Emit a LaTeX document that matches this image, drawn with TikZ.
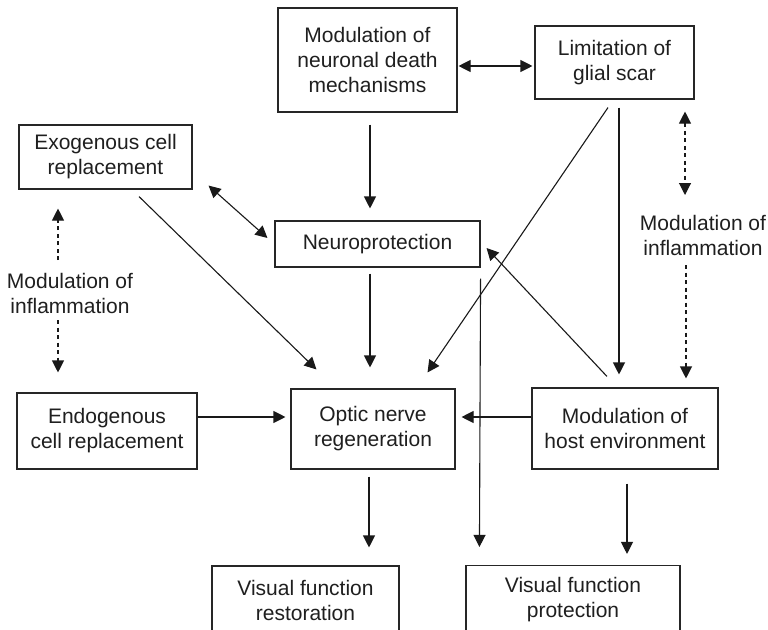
\documentclass[tikz,border=0pt]{standalone}
\usepackage{fontspec}
\setmainfont{Liberation Sans}
\usetikzlibrary{arrows.meta,calc}
\begin{document}
\begin{tikzpicture}[x=1pt,y=-1pt,
  box/.style={draw=black!85, line width=1.1pt, align=center, inner sep=0pt, text=black!88, font=\fontsize{21}{25}\selectfont},
  lbl/.style={align=center, inner sep=0pt, text=black!88, font=\fontsize{21}{25}\selectfont},
  arr/.style={draw=black!90, line width=1.1pt, -{Triangle[length=12pt,width=12pt]}},
  darr/.style={draw=black!90, line width=1.1pt, {Triangle[length=12pt,width=12pt]}-{Triangle[length=12pt,width=12pt]}},
  dsh/.style={dash pattern=on 4pt off 3.5pt}]
\clip (0,0) rectangle (768,629);
\fill[white] (0,0) rectangle (768,629);

\node[box, minimum width=179, minimum height=104] (M) at (367.5,60) {Modulation of\\neuronal death\\mechanisms};
\node[box, minimum width=159, minimum height=73] (L) at (614.5,62.5) {Limitation of\\glial scar};
\node[box, minimum width=173, minimum height=64] (Exo) at (105.5,157) {Exogenous cell\\replacement};
\node[box, minimum width=205, minimum height=46] (NP) at (377.5,244) {Neuroprotection};
\node[box, minimum width=180, minimum height=76] (Endo) at (107,431) {Endogenous\\cell replacement};
\node[box, minimum width=164, minimum height=80] (ONR) at (373,429) {Optic nerve\\regeneration};
\node[box, minimum width=186, minimum height=81] (Host) at (625,428.5) {Modulation of\\host environment};
\node[box, minimum width=187, minimum height=68] (VFR) at (305.5,600) {Visual function\\restoration};
\node[box, minimum width=214, minimum height=68] (VFP) at (573,599.5) {Visual function\\protection};
\node[lbl] (LL) at (70,293) {Modulation of\\inflammation};
\node[lbl] (RL) at (703,235) {Modulation of\\inflammation};

\draw[darr] ($(M.east)+(1,6)$) -- ($(L.west)+(-2,3.5)$);
\draw[arr] ($(M.south)+(2.5,12)$) -- ($(NP.north)+(-7.5,-12)$);
\draw[arr] ($(NP.south)+(-7.5,6)$) -- ($(ONR.north)+(-3,-21)$);
\draw[arr] ($(ONR.south)+(-4,7)$) -- ($(VFR.north)+(63.5,-18)$);
\draw[arr] ($(NP.south east)+(0,11)$) -- ($(VFP.north west)+(14,-18)$);
\draw[arr] ($(Host.south)+(2,14)$) -- ($(VFP.north)+(54,-11)$);
\draw[arr] ($(Host.west)+(0,-11.5)$) -- ($(ONR.east)+(6,-12)$);
\draw[arr] ($(Endo.east)+(0,-14)$) -- ($(ONR.west)+(-5,-12)$);
\draw[arr] ($(Exo.south)+(33.5,7)$) -- ($(ONR.north west)+(26,-19)$);
\draw[darr] ($(Exo.south east)+(16,-4)$) -- ($(NP.west)+(-7,-6)$);
\draw[arr] ($(L.south)+(-6.5,8)$) -- ($(ONR.north east)+(-28,-16)$);
\draw[arr] ($(L.south)+(4.5,8)$) -- ($(Host.north)+(-6,-13)$);
\draw[arr] ($(Host.north)+(-18,-11)$) -- ($(NP.east)+(6,4)$);

\draw[arr,dsh] ($(LL)+(-12,-33)$) -- ($(Exo.south)+(-47.5,19)$);
\draw[arr,dsh] ($(LL)+(-12,27)$) -- ($(Endo.north)+(-49,-20)$);
\draw[darr,dsh] ($(L.south)+(70.5,12)$) -- ($(RL)+(-18,-40)$);
\draw[arr,dsh] ($(RL)+(-17,30)$) -- ($(Host.north)+(61,-9)$);
\end{tikzpicture}
\end{document}
